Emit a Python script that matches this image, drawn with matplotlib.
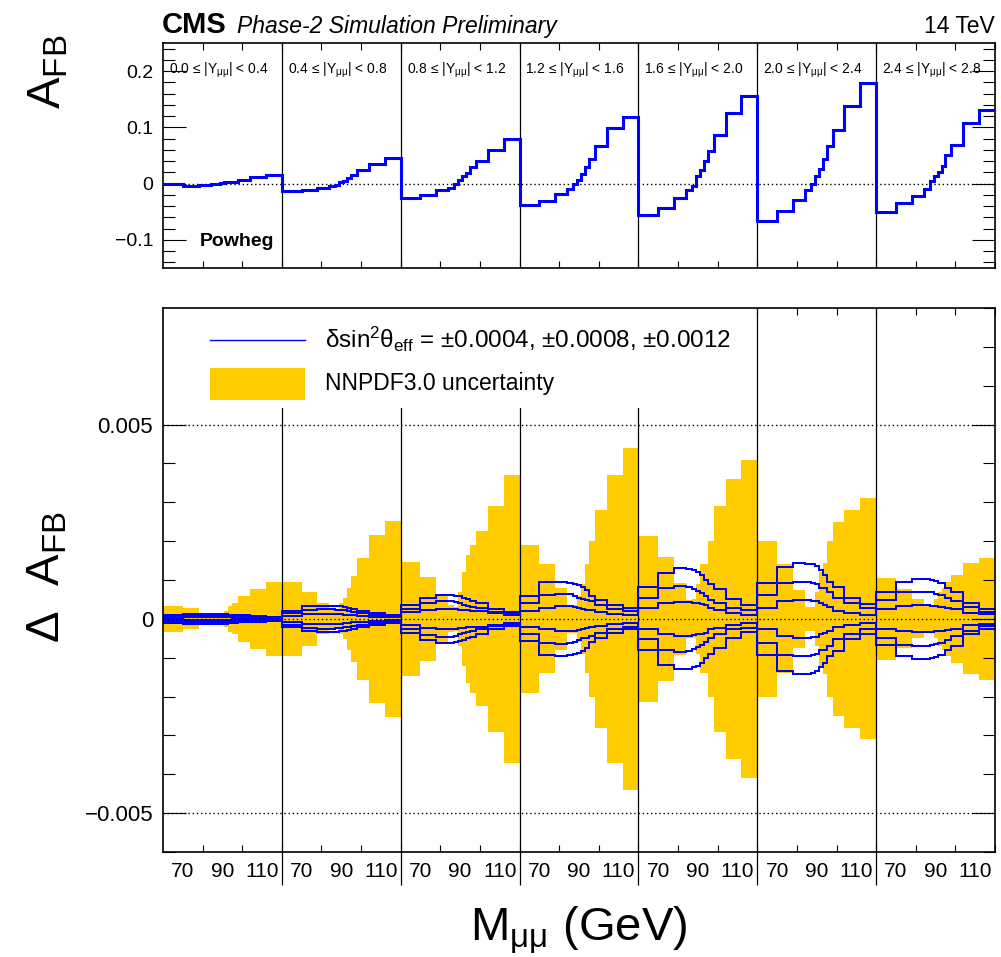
import numpy as np
import matplotlib
matplotlib.use("Agg")
import matplotlib.pyplot as plt
from matplotlib.patches import Rectangle
from matplotlib.ticker import MultipleLocator

plt.rcParams['font.family'] = 'Liberation Sans'
plt.rcParams['mathtext.fontset'] = 'custom'
plt.rcParams['mathtext.rm'] = 'Liberation Sans'
plt.rcParams['mathtext.it'] = 'Liberation Sans:italic'
plt.rcParams['mathtext.bf'] = 'Liberation Sans:bold'

# mass binning inside every rapidity slice (GeV)
mass_edges = [60, 70, 78, 84, 87, 89, 91, 93, 95, 98, 104, 112, 120]
rap_labels = ['0.0 ≤ |Y$_{\\mathrm{μμ}}$| < 0.4', '0.4 ≤ |Y$_{\\mathrm{μμ}}$| < 0.8',
              '0.8 ≤ |Y$_{\\mathrm{μμ}}$| < 1.2', '1.2 ≤ |Y$_{\\mathrm{μμ}}$| < 1.6',
              '1.6 ≤ |Y$_{\\mathrm{μμ}}$| < 2.0', '2.0 ≤ |Y$_{\\mathrm{μμ}}$| < 2.4',
              '2.4 ≤ |Y$_{\\mathrm{μμ}}$| < 2.8']
mass_ticklabels = ['70', '90', '110']

# A_FB (Powheg), one list per rapidity slice
afb_y00 = [-0.001, -0.005, -0.003, -0.001, 0.000, 0.001, 0.002, 0.003, 0.003, 0.007, 0.011, 0.016]
afb_y04 = [-0.013, -0.011, -0.008, -0.005, -0.002, 0.002, 0.005, 0.010, 0.015, 0.024, 0.035, 0.045]
afb_y08 = [-0.026, -0.020, -0.011, -0.007, -0.001, 0.006, 0.013, 0.018, 0.030, 0.040, 0.060, 0.080]
afb_y12 = [-0.038, -0.031, -0.018, -0.009, -0.001, 0.007, 0.017, 0.030, 0.043, 0.067, 0.098, 0.118]
afb_y16 = [-0.056, -0.044, -0.026, -0.011, -0.004, 0.013, 0.024, 0.041, 0.058, 0.087, 0.126, 0.155]
afb_y20 = [-0.067, -0.048, -0.030, -0.012, -0.001, 0.014, 0.026, 0.043, 0.066, 0.096, 0.138, 0.178]
afb_y24 = [-0.050, -0.034, -0.022, -0.010, 0.004, 0.013, 0.020, 0.032, 0.051, 0.068, 0.107, 0.130]

# NNPDF3.0 half width of the band on A_FB
pdf_y00 = [0.00034, 0.00027, 0.00012, 0.00008, 0.00006, 0.0001, 0.0002, 0.00033, 0.0004, 0.00059, 0.00077, 0.00095]
pdf_y04 = [0.00095, 0.0007, 0.0004, 0.00025, 0.00025, 0.0004, 0.00053, 0.00079, 0.0011, 0.00156, 0.00216, 0.00253]
pdf_y08 = [0.00147, 0.00108, 0.00062, 0.00035, 0.0003, 0.0007, 0.0012, 0.00165, 0.0019, 0.00225, 0.0029, 0.0037]
pdf_y12 = [0.0019, 0.0014, 0.0008, 0.00036, 0.00036, 0.0006, 0.0009, 0.0014, 0.002, 0.0028, 0.0037, 0.0044]
pdf_y16 = [0.00213, 0.0016, 0.00092, 0.00049, 0.0005, 0.0009, 0.0014, 0.0014, 0.002, 0.0029, 0.0036, 0.0041]
pdf_y20 = [0.002, 0.0014, 0.00075, 0.0003, 0.0003, 0.0007, 0.0012, 0.00143, 0.002, 0.0025, 0.0028, 0.0031]
pdf_y24 = [0.00105, 0.00076, 0.0005, 0.00035, 0.00035, 0.0005, 0.0007, 0.0008, 0.00095, 0.00113, 0.00143, 0.00156]

# |delta A_FB| for delta sin2theta = 0.0012, 0.0008, 0.0004
s12_y00 = [0.0001, 0.00012, 0.00013, 0.00013, 0.00013, 0.00013, 0.00012, 0.00011, 0.0001, 0.00009, 0.00007, 0.00005]
s08_y00 = [0.00007, 0.00008, 0.00009, 0.00009, 0.00009, 0.00009, 0.00008, 0.00007, 0.00007, 0.00006, 0.00005, 0.00003]
s04_y00 = [0.00003, 0.00004, 0.00004, 0.00004, 0.00004, 0.00004, 0.00004, 0.00004, 0.00003, 0.00003, 0.00002, 0.00002]

s12_y04 = [0.00021, 0.00032, 0.00034, 0.00034, 0.00033, 0.00032, 0.0003, 0.00028, 0.00025, 0.00021, 0.00015, 0.0001]
s08_y04 = [0.00015, 0.00023, 0.00025, 0.00025, 0.00024, 0.00023, 0.00022, 0.0002, 0.00018, 0.00015, 0.00011, 0.00007]
s04_y04 = [0.00008, 0.00012, 0.00013, 0.00013, 0.00012, 0.00012, 0.00011, 0.0001, 0.00009, 0.00008, 0.00006, 0.00004]

s12_y08 = [0.00036, 0.00055, 0.00062, 0.00062, 0.0006, 0.00058, 0.00054, 0.0005, 0.00047, 0.0004, 0.00025, 0.00019]
s08_y08 = [0.00025, 0.00042, 0.00046, 0.00046, 0.00043, 0.0004, 0.00036, 0.00033, 0.0003, 0.00027, 0.00019, 0.00015]
s04_y08 = [0.00017, 0.00023, 0.00026, 0.00026, 0.00025, 0.00024, 0.00023, 0.00022, 0.00021, 0.0002, 0.00015, 0.0001]

s12_y12 = [0.00058, 0.00094, 0.00095, 0.00093, 0.0009, 0.00087, 0.00083, 0.00075, 0.00059, 0.00049, 0.00036, 0.00027]
s08_y12 = [0.0004, 0.00062, 0.00064, 0.00063, 0.0006, 0.00055, 0.0005, 0.00048, 0.00045, 0.00036, 0.00025, 0.0002]
s04_y12 = [0.0002, 0.00027, 0.00032, 0.00032, 0.0003, 0.00028, 0.00026, 0.00024, 0.00022, 0.00019, 0.00013, 0.0001]

s12_y16 = [0.00081, 0.00118, 0.0013, 0.00128, 0.00125, 0.0012, 0.00113, 0.001, 0.00091, 0.00076, 0.0005, 0.00035]
s08_y16 = [0.00053, 0.00079, 0.00085, 0.00083, 0.00077, 0.00072, 0.00066, 0.00059, 0.00049, 0.0004, 0.00027, 0.00023]
s04_y16 = [0.00027, 0.0004, 0.00044, 0.00044, 0.00042, 0.0004, 0.00038, 0.00036, 0.00027, 0.00023, 0.00015, 0.0001]

s12_y20 = [0.00092, 0.00133, 0.00143, 0.00142, 0.0014, 0.00135, 0.00125, 0.00113, 0.00096, 0.00082, 0.00053, 0.00039]
s08_y20 = [0.00062, 0.00092, 0.00096, 0.00095, 0.00093, 0.0009, 0.00079, 0.00079, 0.0007, 0.00053, 0.0004, 0.00027]
s04_y20 = [0.00027, 0.00045, 0.00049, 0.00049, 0.00047, 0.00046, 0.0004, 0.00036, 0.0003, 0.00021, 0.00016, 0.0001]

s12_y24 = [0.00068, 0.00095, 0.00102, 0.00102, 0.001, 0.00098, 0.00092, 0.00092, 0.00079, 0.0007, 0.0004, 0.00025]
s08_y24 = [0.00049, 0.00068, 0.0007, 0.0007, 0.00068, 0.00065, 0.00062, 0.00062, 0.00055, 0.00045, 0.0003, 0.00019]
s04_y24 = [0.00025, 0.00032, 0.00035, 0.00035, 0.00034, 0.00032, 0.0003, 0.0003, 0.00028, 0.00025, 0.00016, 0.00012]

afb_all = [afb_y00, afb_y04, afb_y08, afb_y12, afb_y16, afb_y20, afb_y24]
pdf_all = [pdf_y00, pdf_y04, pdf_y08, pdf_y12, pdf_y16, pdf_y20, pdf_y24]
s12_all = [s12_y00, s12_y04, s12_y08, s12_y12, s12_y16, s12_y20, s12_y24]
s08_all = [s08_y00, s08_y04, s08_y08, s08_y12, s08_y16, s08_y20, s08_y24]
s04_all = [s04_y00, s04_y04, s04_y08, s04_y12, s04_y16, s04_y20, s04_y24]

n_slices = len(afb_all)
span = mass_edges[-1] - mass_edges[0]

# slices placed one after the other on a single x axis
edges = [i * span + (m - mass_edges[0]) for i in range(n_slices) for m in mass_edges[:-1]]
edges.append(n_slices * span)
edges = np.array(edges, dtype=float)

BLUE = '#0000ff'
GOLD = '#ffcc00'
DOT = (0, (1, 2))

fig = plt.figure(figsize=(10.01, 9.57), dpi=100)
ax1 = fig.add_axes([0.1628, 0.7200, 0.8312, 0.2351])
ax2 = fig.add_axes([0.1628, 0.1097, 0.8312, 0.5684])

# ---- top panel: A_FB
ax1.stairs(np.concatenate(afb_all), edges, baseline=None, color=BLUE, lw=2.2, zorder=3)
ax1.axhline(0, color='k', ls=DOT, lw=1.0, zorder=2)
ax1.set_ylim(-0.15, 0.25)
ax1.set_yticks([-0.1, 0, 0.1, 0.2], ['\u22120.1', '0', '0.1', '0.2'])
ax1.yaxis.set_minor_locator(MultipleLocator(0.02))
for i in range(n_slices):
    ax1.text(i * span + 3, 0.196, rap_labels[i], fontsize=10, ha='left', va='baseline')
ax1.text(18.5, -0.111, 'Powheg', fontsize=14, fontweight='bold', ha='left', va='baseline')

# ---- bottom panel: delta A_FB
pdf = np.concatenate(pdf_all)
ax2.stairs(pdf, edges, baseline=-pdf, fill=True, color=GOLD, lw=0, zorder=1)
for shifted in (s12_all, s08_all, s04_all):
    vals = np.concatenate(shifted)
    ax2.stairs(vals, edges, baseline=None, color=BLUE, lw=1.4, antialiased=False, zorder=1.8)
    ax2.stairs(-vals, edges, baseline=None, color=BLUE, lw=1.4, antialiased=False, zorder=1.8)
for yv in (-0.005, 0, 0.005):
    ax2.axhline(yv, color='k', ls=DOT, lw=1.0, zorder=2.2)
ax2.set_ylim(-0.006, 0.008)
ax2.set_yticks([-0.005, 0, 0.005], ['\u22120.005', '0', '0.005'])
ax2.yaxis.set_minor_locator(MultipleLocator(0.001))

# slice separators
for i in range(1, n_slices):
    ax1.axvline(i * span, color='k', lw=0.9, zorder=1.5)
    ax2.vlines(i * span, -0.061, 1, transform=ax2.get_xaxis_transform(), color='k',
               lw=0.9, zorder=1.5, clip_on=False)

# legend, drawn by hand on a white box
ax2.add_patch(Rectangle((0, 0.00544), 293, 0.0026, facecolor='white', edgecolor='none', zorder=2.1))
ax2.plot([23.7, 71.6], [0.00719, 0.00719], color=BLUE, lw=1.0, zorder=3)
ax2.add_patch(Rectangle((23.7, 0.00564), 47.9, 0.00083, facecolor=GOLD, edgecolor='none', zorder=3))
ax2.text(81.7, 0.00719, 'δsin$^{2}$θ$_{\\mathrm{eff}}$ = ±0.0004, ±0.0008, ±0.0012',
         fontsize=17.5, ha='left', va='center', zorder=3)
ax2.text(81.7, 0.00605, 'NNPDF3.0 uncertainty', fontsize=16.5, ha='left', va='center', zorder=3)

for ax in (ax1, ax2):
    ax.set_xlim(0, n_slices * span)
    ax.set_xticks([i * span + m for i in range(n_slices) for m in (10, 30, 50)],
                  mass_ticklabels * n_slices)
    ax.set_xticks([i * span + m for i in range(n_slices) for m in (20, 40, 60)], minor=True)
    ax.tick_params(axis='x', which='major', length=0, labelsize=15, pad=7)
    ax.tick_params(axis='x', which='minor', direction='in', length=5, width=0.8, top=True, bottom=True)
    ax.tick_params(axis='y', which='both', direction='in', left=True, right=True, width=0.8, pad=7)
    ax.tick_params(axis='y', which='major', length=16.5)
    ax.tick_params(axis='y', which='minor', length=8.6)
    for sp in ax.spines.values():
        sp.set_linewidth(1.2)
ax1.tick_params(axis='x', labelbottom=False)
ax1.tick_params(axis='y', labelsize=14)
ax2.tick_params(axis='y', labelsize=16)

# axis titles and header
fig.text(0.048, 1 - 35 / 957, '$\\mathrm{A}_{\\mathrm{FB}}$', fontsize=34, rotation=90,
         ha='center', va='top')
fig.text(0.047, 1 - 511 / 957, 'Δ  A$_{\\mathrm{FB}}$', fontsize=34, rotation=90,
         ha='center', va='top')
fig.text(0.578, 1 - 941 / 957, '$\\mathrm{M}_{\\mathrm{μμ}}$ (GeV)', fontsize=34,
         ha='center', va='baseline')
fig.text(162 / 1001, 1 - 33 / 957, 'CMS', fontsize=21, fontweight='bold', ha='left', va='baseline')
fig.text(237 / 1001, 1 - 33 / 957, 'Phase-2 Simulation Preliminary', fontsize=16.5, style='italic',
         ha='left', va='baseline')
fig.text(995 / 1001, 1 - 33 / 957, '14 TeV', fontsize=16.5, ha='right', va='baseline')

fig.savefig('out.png', dpi=100)
